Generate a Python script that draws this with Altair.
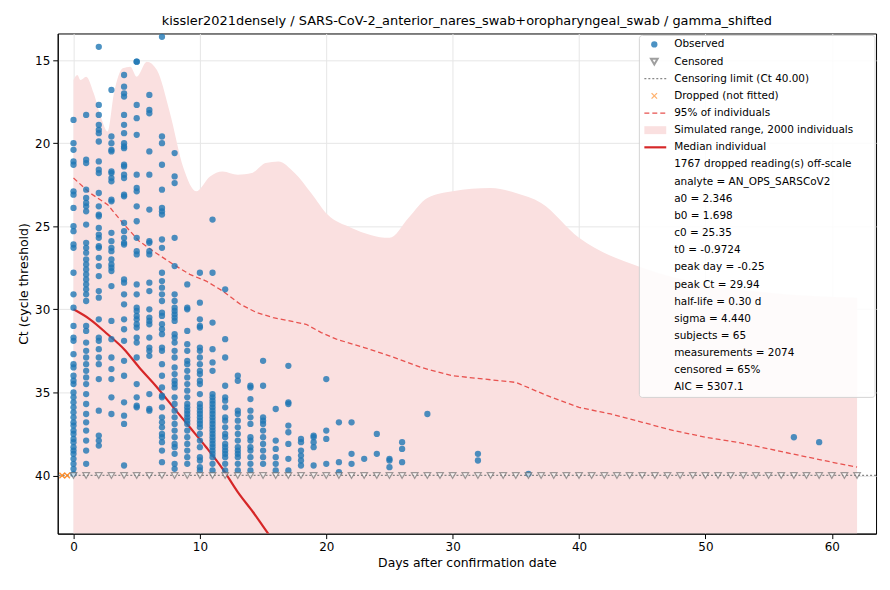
import pandas as pd
import altair as alt

FONT = "DejaVu Sans"

# observed Ct readings per day after confirmation
obs = {
    0: [18.6, 20.0, 20.4, 21.1, 21.3, 22.9, 23.1, 23.9, 25.0, 25.3, 26.1, 26.3, 27.8, 29.1, 29.9, 31.0, 31.7, 31.9,
        32.7, 33.3, 33.5, 34.0, 34.3, 34.5, 35.0, 35.3, 35.6, 35.9, 36.2, 36.5, 36.8, 37.0, 37.3, 37.5, 37.8, 38.0,
        38.3, 38.5, 38.7, 39.0, 39.3, 39.6, 39.9],
    1: [18.3, 21.0, 21.2, 22.8, 23.3, 23.6, 23.8, 24.1, 24.9, 26.0, 26.3, 26.6, 27.0, 27.3, 27.6, 27.9, 28.2, 28.5,
        28.8, 29.1, 29.5, 31.0, 31.3, 32.0, 32.5, 32.9, 33.3, 33.7, 34.1, 34.5, 35.1, 35.7, 36.3, 36.8, 37.3, 37.9,
        38.5, 39.3],
    2: [14.2, 17.7, 18.3, 18.9, 19.2, 19.4, 19.9, 21.1, 21.6, 21.8, 23.0, 23.8, 24.3, 24.4, 25.1, 25.5, 25.7, 26.2,
        26.3, 26.9, 27.4, 28.0, 28.9, 29.3, 30.6, 31.7, 31.9, 32.4, 32.9, 33.3, 34.2, 36.1, 37.6, 37.9, 38.2],
    3: [16.8, 19.6, 20.0, 20.4, 20.5, 21.7, 21.8, 22.1, 22.3, 23.4, 23.5, 25.4, 25.9, 26.3, 26.5, 27.0, 27.3, 27.5,
        27.7, 28.6, 30.7, 31.8, 32.9, 33.6, 34.2, 35.3, 36.3],
    4: [15.9, 16.6, 17.0, 17.2, 18.3, 18.9, 19.4, 20.0, 20.2, 20.3, 21.3, 21.4, 21.9, 22.1, 23.1, 23.2, 24.8, 25.3,
        25.7, 26.0, 26.1, 28.2, 28.4, 29.1, 29.7, 30.6, 31.2, 31.9, 33.1, 34.0, 35.6, 36.4, 36.9, 39.4],
    5: [15.1, 15.1, 17.7, 18.5, 19.5, 21.9, 22.7, 22.9, 23.8, 24.7, 25.7, 26.5, 26.7, 28.5, 29.1, 29.9, 30.1, 30.4,
        30.6, 30.9, 31.1, 31.7, 32.0, 32.9, 34.5, 35.3, 35.8, 35.9],
    6: [17.1, 18.0, 18.2, 20.5, 21.9, 24.0, 25.9, 26.0, 26.5, 26.7, 28.4, 28.9, 30.0, 30.5, 30.7, 30.9, 31.7, 32.3,
        32.5, 32.8, 35.1, 36.0, 36.1],
    7: [13.6, 19.6, 20.0, 21.3, 22.8, 23.9, 24.1, 24.3, 25.8, 26.3, 27.8, 28.3, 28.7, 29.1, 29.5, 30.2, 30.4, 30.9,
        31.2, 31.5, 32.3, 32.5, 33.3, 34.0, 34.7, 35.2, 35.3, 35.9, 36.5, 36.8, 37.1, 37.5, 37.7, 38.0, 38.5, 39.2],
    8: [20.6, 22.0, 22.4, 25.7, 27.4, 29.1, 29.5, 29.9, 30.1, 30.3, 30.5, 30.7, 31.5, 31.7, 32.0, 32.5, 32.9, 33.5,
        33.9, 34.3, 34.5, 34.7, 35.3, 35.7, 36.1, 36.5, 36.9, 37.3, 37.7, 38.1, 38.3, 38.7, 39.3, 39.6],
    9: [28.5, 29.9, 30.0, 31.3, 32.1, 32.5, 33.1, 33.3, 33.7, 34.1, 34.5, 34.9, 35.3, 35.7, 35.9, 36.1, 36.3, 36.5,
        36.7, 36.9, 37.3, 37.7, 38.1, 38.5, 38.9, 39.3],
    10: [27.8, 29.6, 30.6, 31.0, 31.1, 32.3, 32.5, 32.9, 33.3, 33.7, 33.9, 34.3, 34.5, 35.1, 35.7, 35.9, 36.1, 36.3,
         36.5, 36.7, 36.9, 37.1, 37.5, 37.9, 38.3, 38.9, 39.1, 39.5, 39.7],
    11: [24.6, 27.8, 30.8, 32.4, 33.2, 33.7, 35.1, 35.3, 35.5, 35.7, 35.9, 36.1, 36.3, 36.5, 36.7, 36.9, 37.1, 37.3,
         37.5, 37.7, 37.9, 38.1, 38.3, 38.5, 38.7, 38.9, 39.3, 39.7],
    12: [28.8, 31.8, 32.9, 34.6, 35.3, 35.5, 35.9, 36.5, 36.7, 37.1, 37.5, 37.7, 38.1, 38.3, 38.5, 38.7, 38.9, 39.3, 39.7],
    13: [34.0, 34.3, 36.1, 36.3, 36.7, 37.1, 37.5, 37.9, 38.3, 38.5, 38.7, 38.9, 39.3, 39.7],
    14: [34.6, 34.7, 35.4, 36.1, 36.5, 36.9, 37.7, 37.9, 38.3, 38.5, 38.9, 39.3, 39.7],
    15: [33.1, 34.6, 36.5, 36.7, 36.9, 37.3, 37.7, 38.1, 38.5, 38.9, 39.3],
    16: [36.0, 37.9, 38.4, 38.9, 39.3, 39.7],
    17: [33.4, 35.6, 35.7, 37.0, 37.4, 38.1, 39.0, 39.7],
    18: [37.8, 38.0, 38.5, 38.8, 39.1, 39.4],
    19: [37.6, 37.7, 38.0, 38.3, 39.4],
    20: [34.2, 37.3, 37.8, 39.3],
    21: [36.8, 39.2, 39.8],
    22: [36.8, 38.7, 39.3],
    23: [39.0],
    24: [37.5, 38.7],
    25: [39.0, 39.1, 39.5],
    26: [38.0, 38.4, 39.2],
    28: [36.3],
    32: [38.7, 39.1],
    36: [39.9],
    57: [37.7],
    59: [38.0],
}
obs_day = [d for d, v in obs.items() for _ in v]
obs_ct = [c for v in obs.values() for c in v]

cens_day = list(range(0, 63))
drop_day = [-0.9, -0.5]

band_day = [0, 0.3, 0.55, 1.0, 1.6, 2.2, 2.7, 3.2, 3.9, 4.5, 5.0, 5.8, 6.6, 7.6, 8.7, 9.7, 10.8, 11.8, 13.0,
            14.1, 15.2, 16.2, 17.5, 18.8, 20.1, 22, 25, 26.5, 28, 30, 33, 35, 37, 40, 45, 50, 55, 62]
band_top = [16.2, 15.9, 16.2, 16.0, 17.0, 18.5, 19.3, 17.0, 15.5, 15.4, 16.0, 15.1, 15.6, 18.1, 21.5, 22.9,
            22.0, 21.7, 21.9, 21.8, 21.2, 21.1, 21.8, 23.0, 24.3, 25.1, 25.7, 24.5, 23.3, 22.9, 22.7, 23.0,
            23.6, 25.7, 27.5, 28.5, 29.0, 29.3]

p95_day = [0, 1.3, 2.7, 4.0, 5.2, 6.5, 7.9, 9.2, 10.5, 11.8, 13.2, 14.5, 15.8, 17.1, 18.4, 19.6, 20.8, 23, 25,
           27.5, 30, 32.5, 35, 37.5, 40, 42.5, 45, 47.5, 50, 52.5, 55, 57.5, 60, 62]
p95_ct = [22.1, 23.0, 23.7, 24.9, 25.9, 26.6, 27.3, 27.9, 28.3, 28.9, 29.7, 30.2, 30.5, 30.7, 30.9, 31.4, 31.8,
          32.3, 32.8, 33.5, 34.0, 34.2, 34.4, 35.2, 35.9, 36.3, 36.8, 37.3, 37.7, 38.0, 38.4, 38.8, 39.2, 39.5]

med_day = [0, 1.3, 2.7, 4.0, 5.2, 6.5, 7.9, 9.2, 10.5, 11.8, 13.0, 14.2, 15.4, 16.5]
med_ct = [30.0, 30.6, 31.5, 32.4, 33.5, 34.6, 35.9, 37.1, 38.3, 39.6, 41.0, 42.2, 43.5, 44.6]

stats = ["1767 dropped reading(s) off-scale", "analyte = AN_OPS_SARSCoV2", "a0 = 2.346", "b0 = 1.698",
         "c0 = 25.35", "t0 = -0.9724", "peak day = -0.25", "peak Ct = 29.94", "half-life = 0.30 d",
         "sigma = 4.440", "subjects = 65", "measurements = 2074", "censored = 65%", "AIC = 5307.1"]
legend_labels = ["Observed", "Censored", "Censoring limit (Ct 40.00)", "Dropped (not fitted)",
                 "95% of individuals", "Simulated range, 2000 individuals", "Median individual"] + stats

W, H = 823, 503
xs = alt.Scale(domain=[-1.25, 63.5], nice=False, zero=False)
ys = alt.Scale(domain=[13.4, 43.5], nice=False, zero=False, reverse=True)

X = lambda f: alt.X(f, type="quantitative", scale=xs, title="Days after confirmation date",
                    axis=alt.Axis(values=[0, 10, 20, 30, 40, 50, 60], gridColor="#e6e6e6"))
Y = lambda f: alt.Y(f, type="quantitative", scale=ys, title="Ct (cycle threshold)",
                    axis=alt.Axis(values=[15, 20, 25, 30, 35, 40], gridColor="#e6e6e6"))

XMARK = "M-1,-1L1,1M-1,1L1,-1"

band = alt.Chart(pd.DataFrame({"d": band_day, "top": band_top, "bot": 43.5})).mark_area(
    color="#fae0e0", clip=True, interpolate="monotone").encode(X("d"), Y("top"), y2="bot")
p95 = alt.Chart(pd.DataFrame({"d": p95_day, "c": p95_ct})).mark_line(
    color="#e8524f", strokeDash=[5, 3], strokeWidth=1.3, clip=True).encode(X("d"), Y("c"))
med = alt.Chart(pd.DataFrame({"d": med_day, "c": med_ct})).mark_line(
    color="#d62728", strokeWidth=2.2, clip=True, interpolate="monotone").encode(X("d"), Y("c"))
limit = alt.Chart(pd.DataFrame({"c": [40.0]})).mark_rule(
    color="#888", strokeDash=[2, 2], strokeWidth=1.3).encode(Y("c"))
pts = alt.Chart(pd.DataFrame({"d": obs_day, "c": obs_ct})).mark_circle(
    color="#1f77b4", opacity=0.8, size=40).encode(X("d"), Y("c"))
cens = alt.Chart(pd.DataFrame({"d": cens_day, "c": 40.0})).mark_point(
    shape="triangle-down", color="#777", fill="white", filled=False, size=45, strokeWidth=1.2).encode(X("d"), Y("c"))
drop = alt.Chart(pd.DataFrame({"d": drop_day, "c": 40.0})).mark_point(
    shape=XMARK, color="#ff7f0e", filled=False, size=30, strokeWidth=1.3, opacity=0.85).encode(X("d"), Y("c"))

# legend box drawn by hand
LX, LY, STEP = 620, 11, 17.25
box = alt.Chart(pd.DataFrame({"a": [0]})).mark_rect(
    fill="white", stroke="#d0d0d0", cornerRadius=3, opacity=0.9).encode(
    x=alt.value(585), x2=alt.value(822), y=alt.value(2), y2=alt.value(366))
ltext = alt.Chart(pd.DataFrame({"t": legend_labels, "ly": [LY + i * STEP for i in range(len(legend_labels))]})).mark_text(
    align="left", baseline="middle", font=FONT, fontSize=10.5, color="black").encode(
    x=alt.value(LX), y=alt.Y("ly:Q", scale=None), text="t:N")
def sym(i, **kw):
    return alt.Chart(pd.DataFrame({"a": [0]})).mark_point(**kw).encode(
        x=alt.value(600), y=alt.value(LY + i * STEP))
def seg(i, **kw):
    return alt.Chart(pd.DataFrame({"a": [0]})).mark_rule(**kw).encode(
        x=alt.value(590), x2=alt.value(612), y=alt.value(LY + i * STEP))
syms = [
    sym(0, shape="circle", filled=True, color="#1f77b4", opacity=0.8, size=40),
    sym(1, shape="triangle-down", color="#777", size=45),
    seg(2, color="#888", strokeDash=[2, 2], strokeWidth=1.3),
    sym(3, shape=XMARK, filled=False, color="#ff7f0e", opacity=0.6, size=30, strokeWidth=1.3),
    seg(4, color="#e8524f", strokeDash=[5, 3], strokeWidth=1.3),
    alt.Chart(pd.DataFrame({"a": [0]})).mark_rect(color="#fae0e0").encode(
        x=alt.value(590), x2=alt.value(612), y=alt.value(LY + 5 * STEP - 4), y2=alt.value(LY + 5 * STEP + 4)),
    seg(6, color="#d62728", strokeWidth=2.2),
]

chart = alt.layer(band, p95, med, limit, pts, cens, drop, box, ltext, *syms).properties(
    width=W, height=H,
    padding={"left": 9, "top": 5, "right": 5, "bottom": 5},
    title=alt.Title("kissler2021densely / SARS-CoV-2_anterior_nares_swab+oropharyngeal_swab / gamma_shifted",
                    font=FONT, fontSize=13, fontWeight="normal", offset=6),
).configure_axis(
    labelFont=FONT, titleFont=FONT, labelFontSize=12, titleFontSize=12.5, titleFontWeight="normal",
    labelColor="black", titleColor="black", domainColor="black", tickColor="black", labelPadding=3,
).configure_view(stroke="black", strokeWidth=1)

chart.save("out.html", embed_options={"renderer": "svg", "actions": False})
